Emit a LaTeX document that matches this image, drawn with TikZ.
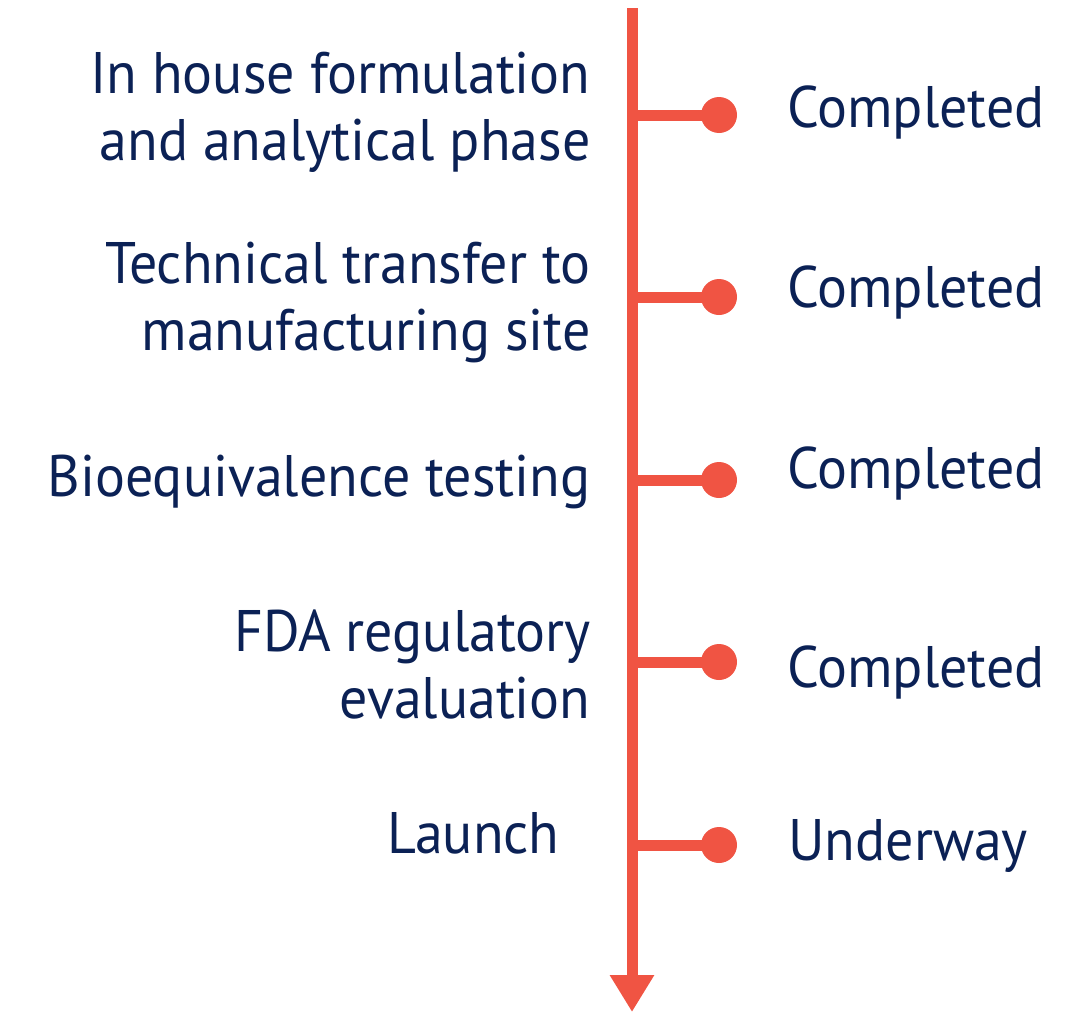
\documentclass[tikz,border=0pt]{standalone}
\usepackage{fontspec}
\setmainfont{PT Sans}[FakeStretch=0.955]
\usetikzlibrary{arrows.meta}
\usetikzlibrary{positioning}
\definecolor{tlred}{HTML}{F05443}
\definecolor{tlnavy}{HTML}{0B2155}
\tikzset{
  stem/.style={line width=5.5pt,draw=tlred},
  dot/.style={circle,fill=tlred,inner sep=0pt,minimum size=18pt},
  phase/.style={text=tlnavy,inner sep=0pt,align=right,anchor=base east,
    font=\fontsize{29.3}{33.5}\selectfont},
  status/.style={text=tlnavy,inner sep=0pt,anchor=base west,
    font=\fontsize{29.3}{33.5}\selectfont}
}
\begin{document}
\begin{tikzpicture}[line cap=butt,line join=miter,x=0.5pt,y=-0.5pt]
\useasboundingbox (0,0) rectangle (1087,1012);
% main line
\coordinate (top) at (632,8);
\coordinate (bot) at (632,1012);
\draw [stem,-{Triangle[width=21pt,length=18.5pt]}] (top) -- (bot);
% branches
\coordinate (b1) at (632,115);
\coordinate (b2) at (632,297);
\coordinate (b3) at (632,480);
\coordinate (b4) at (632,662);
\coordinate (b5) at (632,845);
\node [dot] (d1) at (719,115) {};
\node [dot] (d2) at (719,297) {};
\node [dot] (d3) at (719,480) {};
\node [dot] (d4) at (719,662) {};
\node [dot] (d5) at (719,845) {};
\draw [stem] (b1) -- (d1.center);
\draw [stem] (b2) -- (d2.center);
\draw [stem] (b3) -- (d3.center);
\draw [stem] (b4) -- (d4.center);
\draw [stem] (b5) -- (d5.center);
% phases (base = last line)
\node [phase] (p1) at (591,160) {In house formulation\\and analytical phase};
\node [phase] (p2) at (591,350) {Technical transfer to\\manufacturing site};
\node [phase] (p3) at (591,496) {Bioequivalence testing};
\node [phase] (p4) at (591,718) {FDA regulatory\\evaluation};
\node [phase] (p5) at (560,853) {Launch};
% status
\node [status] (s1) at (787,127) {Completed};
\node [status] (s2) at (787,307) {Completed};
\node [status] (s3) at (787,488) {Completed};
\node [status] (s4) at (787,687) {Completed};
\node [status] (s5) at (788,860) {Underway};
\end{tikzpicture}
\end{document}
